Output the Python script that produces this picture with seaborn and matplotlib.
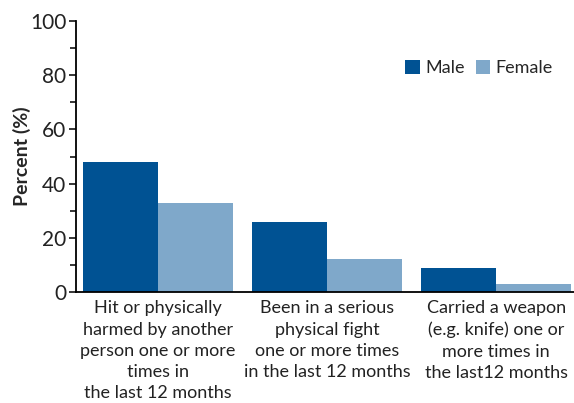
import pandas as pd
import matplotlib.pyplot as plt
import seaborn as sns
from matplotlib.ticker import MultipleLocator

categories = ["Hit or physically\nharmed by another\nperson one or more\ntimes in\nthe last 12 months",
              "Been in a serious\nphysical fight\none or more times\nin the last 12 months",
              "Carried a weapon\n(e.g. knife) one or\nmore times in\nthe last12 months"]
male = [48, 26, 9]
female = [33, 12, 3]

df = pd.DataFrame({
    "Category": categories * 2,
    "Sex": ["Male"] * 3 + ["Female"] * 3,
    "Percent": male + female,
})

sns.set_style("white")
plt.rcParams['font.family'] = ['Lato', 'DejaVu Sans']

fig = plt.figure(figsize=(5.74, 4.03), dpi=100)
ax = fig.add_axes([76 / 574, 1 - 292 / 403, 1 - 76 / 574, (292 - 21) / 403])
sns.barplot(data=df, x="Category", y="Percent", hue="Sex", ax=ax,
            palette={"Male": "#005293", "Female": "#7fa8ca"},
            width=0.89, saturation=1, linewidth=0)

ax.set_ylim(0, 100)
ax.set_xlim(-0.485, 2.46)
ax.yaxis.set_major_locator(MultipleLocator(20))
ax.yaxis.set_minor_locator(MultipleLocator(10))
ax.tick_params(axis="y", which="major", length=5, width=1.3, labelsize=15, left=True, pad=2,
               labelcolor="#222222")
ax.tick_params(axis="y", which="minor", length=4, width=1.3, left=True)
ax.tick_params(axis="x", length=0, labelsize=13, pad=6, labelcolor="#222222")
for lbl in ax.get_xticklabels():
    lbl.set_linespacing(1.4)
for s in ["top", "right"]:
    ax.spines[s].set_visible(False)
for s in ["left", "bottom"]:
    ax.spines[s].set_color("black")
    ax.spines[s].set_linewidth(1.3)
ax.set_xlabel("")
ax.set_ylabel("Percent (%)", fontsize=14, fontweight="bold", labelpad=-1)

leg = ax.legend(loc="upper right", bbox_to_anchor=(0.99, 0.915), frameon=False, ncol=2,
                handlelength=0.8, handleheight=0.8, handletextpad=0.3, columnspacing=0.6,
                fontsize=13)

plt.savefig("out.png", dpi=100)
